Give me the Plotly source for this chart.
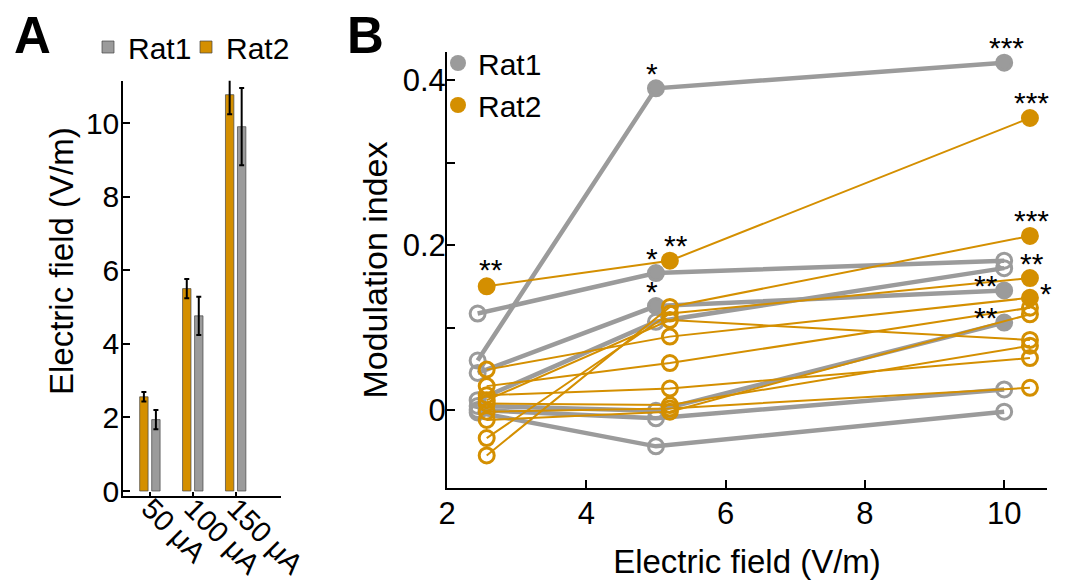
import plotly.graph_objects as go

# ---------------- Panel A data ----------------
currents = ["50 μA", "100 μA", "150 μA"]
rat1_field = [1.94, 4.76, 9.90]
rat1_err = [0.26, 0.52, 1.05]
rat2_field = [2.56, 5.50, 10.77]
rat2_err = [0.13, 0.26, 0.53]

# ---------------- Panel B data ----------------
rat1_x = [2.44, 5.0, 10.0]
rat2_x = [2.57, 5.2, 10.37]

rat1_mi = [
    [0.060, 0.390, 0.421],
    [0.117, 0.166, 0.181],
    [0.045, 0.126, 0.145],
    [0.012, 0.107, 0.172],
    [0.005, -0.001, 0.106],
    [0.000, -0.010, 0.025],
    [-0.003, -0.044, -0.002],
]
rat1_sig = [
    ["", "*", "***"],
    ["", "*", ""],
    ["", "*", "**"],
    ["", "", ""],
    ["", "", "**"],
    ["", "", ""],
    ["", "", ""],
]
rat2_mi = [
    [0.150, 0.181, 0.354],
    [0.049, 0.089, 0.136],
    [0.029, 0.057, 0.124],
    [0.018, 0.026, 0.063],
    [0.012, 0.109, 0.085],
    [0.008, 0.006, 0.078],
    [-0.002, 0.002, 0.027],
    [-0.012, -0.002, 0.116],
    [-0.034, 0.117, 0.160],
    [-0.055, 0.125, 0.211],
]
rat2_sig = [
    ["**", "**", "***"],
    ["", "", "*"],
    ["", "", ""],
    ["", "", ""],
    ["", "", ""],
    ["", "", ""],
    ["", "", ""],
    ["", "", ""],
    ["", "", "**"],
    ["", "", "***"],
]

GRAY = "#9b9b9b"
ORANGE = "#d48f00"
# page body has an 8 px margin; the figure is sized to fill the rest of the window
OFF = 8
W, H = 1066 - OFF * 2, 588 - OFF * 2
FONT = "Liberation Sans, Arial, sans-serif"


def px(x):
    return (x - OFF) / W


def py(y):
    return 1 - (y - OFF) / H


fig = go.Figure()

# Panel A bars
fig.add_trace(go.Bar(
    x=currents, y=rat2_field, name="Rat2",
    marker=dict(color=ORANGE, line=dict(color="rgba(70,70,70,0.7)", width=1)),
    error_y=dict(type="data", array=rat2_err, color="black", thickness=2, width=2.5),
    xaxis="x", yaxis="y", legend="legend3",
))
fig.add_trace(go.Bar(
    x=currents, y=rat1_field, name="Rat1",
    marker=dict(color=GRAY, line=dict(color="rgba(70,70,70,0.7)", width=1)),
    error_y=dict(type="data", array=rat1_err, color="black", thickness=2, width=2.5),
    xaxis="x", yaxis="y", legend="legend",
))

annotations = []


def add_neurons(xs, mis, sigs, color, lw):
    for vals, sg in zip(mis, sigs):
        symbols = ["circle" if s else "circle-open" for s in sg]
        fig.add_trace(go.Scatter(
            x=xs, y=vals, mode="lines+markers", showlegend=False,
            line=dict(color=color, width=lw),
            marker=dict(symbol=symbols, size=15, color=color,
                        line=dict(color=color, width=3)),
            xaxis="x2", yaxis="y2",
        ))


add_neurons(rat1_x, rat1_mi, rat1_sig, GRAY, 4.5)
add_neurons(rat2_x, rat2_mi, rat2_sig, ORANGE, 2)


# significance stars (pixel offsets are styling)
def star_offset(is_rat1, col, y):
    if col == 2 and is_rat1 and y < 0.2:
        return -18, 5
    if col == 2 and (not is_rat1) and abs(y - 0.136) < 0.002:
        return 16, 4
    if col == 1 and is_rat1:
        return -4, 15
    if col == 1 and not is_rat1:
        return 6, 15
    if col == 0:
        return 4, 17
    return 2, 15


for is_rat1, xs, mis, sigs in [(True, rat1_x, rat1_mi, rat1_sig), (False, rat2_x, rat2_mi, rat2_sig)]:
    for vals, sg in zip(mis, sigs):
        for c in range(3):
            if sg[c]:
                dx, dy = star_offset(is_rat1, c, vals[c])
                annotations.append(dict(
                    x=xs[c], y=vals[c], xref="x2", yref="y2", text=sg[c],
                    showarrow=False, xanchor="center", yanchor="middle",
                    xshift=dx, yshift=dy,
                    font=dict(size=30, color="black", family=FONT),
                ))

# legend-only markers for panel B
fig.add_trace(go.Scatter(x=[None], y=[None], mode="markers", name="Rat1",
                         marker=dict(color=GRAY, size=18), xaxis="x2", yaxis="y2",
                         legend="legend2"))
fig.add_trace(go.Scatter(x=[None], y=[None], mode="markers", name="Rat2",
                         marker=dict(color=ORANGE, size=18), xaxis="x2", yaxis="y2",
                         legend="legend2"))

annotations.append(dict(x=px(32), y=py(35), xref="paper", yref="paper", text="<b>A</b>",
                        showarrow=False, xanchor="center", yanchor="middle",
                        height=44, borderpad=0, valign="middle",
                        font=dict(size=51, color="black", family=FONT)))
annotations.append(dict(x=px(365), y=py(35), xref="paper", yref="paper", text="<b>B</b>",
                        showarrow=False, xanchor="center", yanchor="middle",
                        height=44, borderpad=0, valign="middle",
                        font=dict(size=51, color="black", family=FONT)))
# panel A y-axis title (sits above the axis centre in the original)
annotations.append(dict(x=px(61), y=py(261), xref="paper", yref="paper",
                        text="Electric field (V/m)", textangle=-90,
                        showarrow=False, xanchor="center", yanchor="middle",
                        font=dict(size=33, color="black", family=FONT)))

axis_common = dict(showline=True, linecolor="black", linewidth=2, ticks="inside",
                   tickcolor="black", tickwidth=2, showgrid=False, zeroline=False,
                   mirror=False, automargin=False)

legend_common = dict(xanchor="left", yanchor="top", bgcolor="rgba(0,0,0,0)", itemwidth=30)

fig.update_layout(
    width=W, height=H, margin=dict(l=0, r=0, t=0, b=0, autoexpand=False),
    paper_bgcolor="white", plot_bgcolor="rgba(0,0,0,0)",
    font=dict(family=FONT, color="black", size=30),
    barmode="group", bargap=0.44, bargroupgap=0.3,
    xaxis=dict(domain=[px(123.3), px(280.7)], anchor="y", range=[-0.62, 3.05],
               tickangle=45, ticklen=4, tickfont=dict(size=29), ticklabelstandoff=-18,
               **axis_common),
    yaxis=dict(domain=[py(496), py(80.7)], anchor="x", range=[-0.136, 11.15],
               tickvals=[0, 2, 4, 6, 8, 10], ticklen=7, tickfont=dict(size=30),
               ticklabelstandoff=-4, **axis_common),
    xaxis2=dict(domain=[px(447), px(1047)], anchor="y2", range=[2, 10.615],
                tickvals=[2, 4, 6, 8, 10], ticklen=8, tickfont=dict(size=31),
                ticklabelstandoff=-3,
                title=dict(text="Electric field (V/m)", font=dict(size=33), standoff=21),
                **axis_common),
    yaxis2=dict(domain=[py(488), py(52)], anchor="x2", range=[-0.0945, 0.434],
                tickvals=[0, 0.1, 0.2, 0.3, 0.4], ticktext=["0", "", "0.2", "", "0.4"],
                ticklen=8, tickfont=dict(size=31), ticklabelstandoff=-7,
                title=dict(text="Modulation index", font=dict(size=34), standoff=5),
                **axis_common),
    legend=dict(x=px(88), y=py(21), font=dict(size=30), **legend_common),
    legend3=dict(x=px(186), y=py(21), font=dict(size=30), **legend_common),
    legend2=dict(x=px(438), y=py(37), font=dict(size=30), **legend_common),
    annotations=annotations,
    showlegend=True,
)

fig.write_html("out.html")
